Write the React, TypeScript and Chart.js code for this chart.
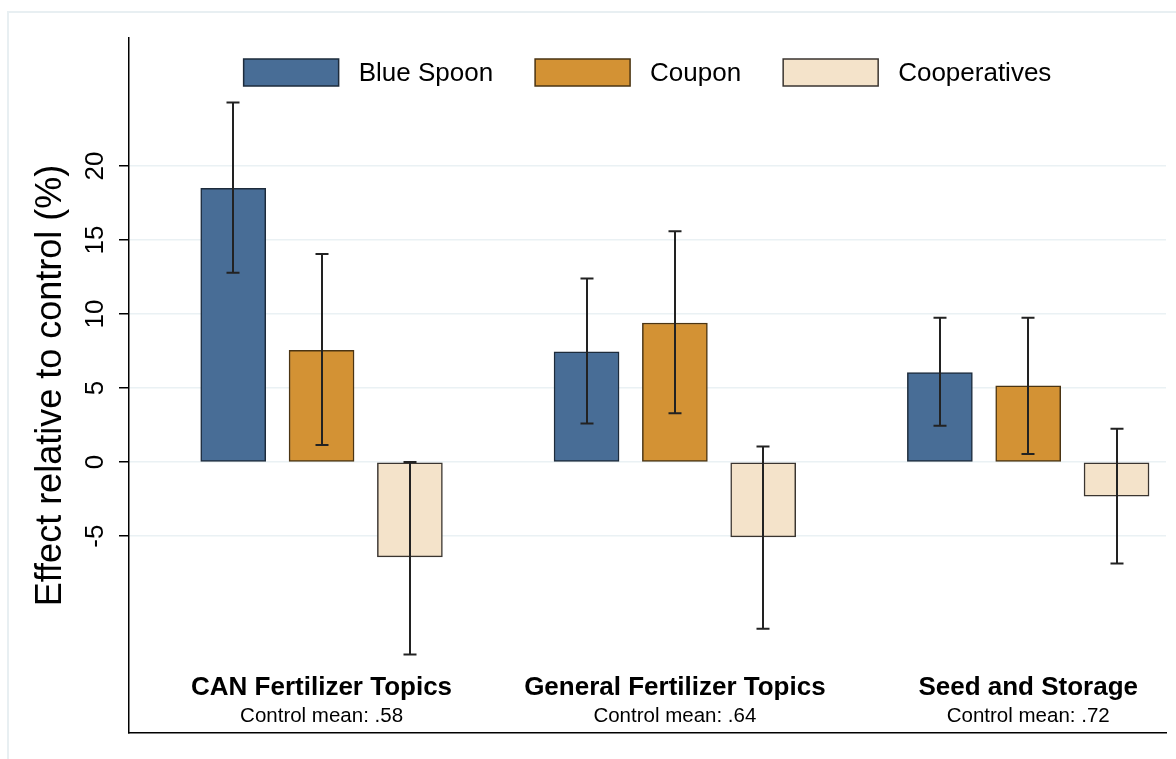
import React, { useEffect, useRef } from "react";
import { Chart, registerables } from "chart.js";

Chart.register(...registerables);

// ---- Data ----
const categories = ["CAN Fertilizer Topics", "General Fertilizer Topics", "Seed and Storage"];
const controlMeans = ["Control mean: .58", "Control mean: .64", "Control mean: .72"];
const seriesNames = ["Blue Spoon", "Coupon", "Cooperatives"];

const blueSpoon = [18.5, 7.45, 6.05];
const blueSpoonLow = [12.8, 2.6, 2.45];
const blueSpoonHigh = [24.3, 12.4, 9.75];

const coupon = [7.55, 9.4, 5.15];
const couponLow = [1.15, 3.3, 0.55];
const couponHigh = [14.05, 15.6, 9.75];

const cooperatives = [-6.4, -5.05, -2.3];
const cooperativesLow = [-13.0, -11.25, -6.85];
const cooperativesHigh = [0, 1.05, 2.25];

const yTicks = [-5, 0, 5, 10, 15, 20];

// ---- Styles ----
const FONT = "'Liberation Sans', Arial, sans-serif";
const fills = ["#486d96", "#d39234", "#f4e3ca"];
const borders = ["#1d2b3b", "#4a3413", "#3a3530"];
const slotOffsets = [-0.25, 0, 0.25];
const seriesValues = [blueSpoon, coupon, cooperatives];
const seriesLow = [blueSpoonLow, couponLow, cooperativesLow];
const seriesHigh = [blueSpoonHigh, couponHigh, cooperativesHigh];

const framePlugin = {
  id: "frame",
  beforeDraw(chart: any) {
    const ctx = chart.ctx;
    ctx.save();
    ctx.strokeStyle = "#e8eff2";
    ctx.lineWidth = 2;
    ctx.beginPath();
    ctx.moveTo(8, chart.height + 5);
    ctx.lineTo(8, 12);
    ctx.lineTo(chart.width + 5, 12);
    ctx.stroke();
    ctx.restore();
  },
};

const errorBarPlugin = {
  id: "errorBars",
  afterDatasetsDraw(chart: any) {
    const ctx = chart.ctx;
    const yScale = chart.scales.y;
    ctx.save();
    ctx.strokeStyle = "#222222";
    ctx.lineWidth = 2;
    chart.data.datasets.forEach((_ds: any, i: number) => {
      const meta = chart.getDatasetMeta(i);
      meta.data.forEach((el: any, j: number) => {
        const x = Math.round(el.x);
        const yHi = yScale.getPixelForValue(seriesHigh[i][j]);
        const yLo = yScale.getPixelForValue(seriesLow[i][j]);
        ctx.beginPath();
        ctx.moveTo(x, yHi);
        ctx.lineTo(x, yLo);
        ctx.moveTo(x - 6.5, yHi);
        ctx.lineTo(x + 6.5, yHi);
        ctx.moveTo(x - 6.5, yLo);
        ctx.lineTo(x + 6.5, yLo);
        ctx.stroke();
      });
    });
    ctx.restore();
  },
};

const textPlugin = {
  id: "texts",
  afterDraw(chart: any) {
    const ctx = chart.ctx;
    const area = chart.chartArea;
    const yScale = chart.scales.y;
    const xScale = chart.scales.x;
    ctx.save();
    ctx.fillStyle = "#000000";

    // y tick labels (rotated)
    ctx.font = `26px ${FONT}`;
    ctx.textAlign = "center";
    ctx.textBaseline = "middle";
    yTicks.forEach((v) => {
      const py = yScale.getPixelForValue(v);
      ctx.save();
      ctx.translate(area.left - 33.5, py);
      ctx.rotate(-Math.PI / 2);
      ctx.fillText(String(v), 0, 0);
      ctx.restore();
    });

    // y axis title
    ctx.font = `36px ${FONT}`;
    ctx.save();
    ctx.translate(area.left - 77.5, (area.top + area.bottom) / 2);
    ctx.rotate(-Math.PI / 2);
    ctx.fillText("Effect relative to control (%)", 0, 0);
    ctx.restore();

    // category labels
    ctx.textBaseline = "alphabetic";
    categories.forEach((c, g) => {
      const px = xScale.getPixelForValue(g);
      ctx.font = `bold 26px ${FONT}`;
      ctx.fillText(c, px, area.bottom - 38);
      ctx.font = `20.5px ${FONT}`;
      ctx.fillText(controlMeans[g], px, area.bottom - 11);
    });

    // legend
    ctx.font = `26px ${FONT}`;
    const boxW = 95;
    const boxH = 27;
    const gapText = 20;
    const gapItem = 42;
    const widths = seriesNames.map((n) => ctx.measureText(n).width);
    const total =
      widths.reduce((a, b) => a + b, 0) + seriesNames.length * (boxW + gapText) + (seriesNames.length - 1) * gapItem;
    let x = (area.left + area.right) / 2 - total / 2;
    const cy = area.top + 34.5;
    ctx.textAlign = "left";
    ctx.textBaseline = "middle";
    seriesNames.forEach((n, i) => {
      ctx.fillStyle = fills[i];
      ctx.fillRect(x, cy - boxH / 2, boxW, boxH);
      ctx.strokeStyle = borders[i];
      ctx.lineWidth = 1.5;
      ctx.strokeRect(x, cy - boxH / 2, boxW, boxH);
      ctx.fillStyle = "#000000";
      ctx.fillText(n, x + boxW + gapText, cy + 1);
      x += boxW + gapText + widths[i] + gapItem;
    });
    ctx.restore();
  },
};

export default function App() {
  const canvasRef = useRef<HTMLCanvasElement | null>(null);

  useEffect(() => {
    if (!canvasRef.current) return;
    const chart = new Chart(canvasRef.current, {
      type: "bar",
      data: {
        datasets: seriesNames.map((name, s) => ({
          label: name,
          data: seriesValues[s].map((v, g) => ({ x: g + slotOffsets[s], y: v })),
          backgroundColor: fills[s],
          borderColor: borders[s],
          borderWidth: 1.5,
          borderSkipped: false,
          barThickness: 65,
          grouped: false,
        })),
      },
      options: {
        responsive: false,
        animation: false,
        events: [],
        layout: { padding: { top: 38, right: 10, bottom: 26, left: 0 } },
        plugins: { legend: { display: false }, tooltip: { enabled: false } },
        scales: {
          x: {
            type: "linear",
            offset: false,
            min: -0.545,
            max: 2.39,
            ticks: { display: false },
            grid: { display: false, offset: false },
            border: { display: true, color: "#000000", width: 1.5 },
            afterFit: (s: any) => {
              s.height = 0;
            },
          },
          y: {
            type: "linear",
            min: -18.3,
            max: 28.65,
            afterBuildTicks: (s: any) => {
              s.ticks = yTicks.map((v) => ({ value: v }));
            },
            ticks: { display: false },
            grid: {
              color: "#eaf1f4",
              lineWidth: 1.5,
              tickColor: "#000000",
              tickWidth: 1.5,
              tickLength: 10,
              drawTicks: true,
            },
            border: { display: true, color: "#000000", width: 1.5 },
            afterFit: (s: any) => {
              s.width = 129;
            },
          },
        },
      },
      plugins: [framePlugin, errorBarPlugin, textPlugin],
    } as any);
    return () => chart.destroy();
  }, []);

  return (
    <div style={{ position: "fixed", left: 0, top: 0, width: 1176, height: 759, background: "#ffffff" }}>
      <canvas ref={canvasRef} width={1176} height={759} style={{ display: "block" }} />
    </div>
  );
}
